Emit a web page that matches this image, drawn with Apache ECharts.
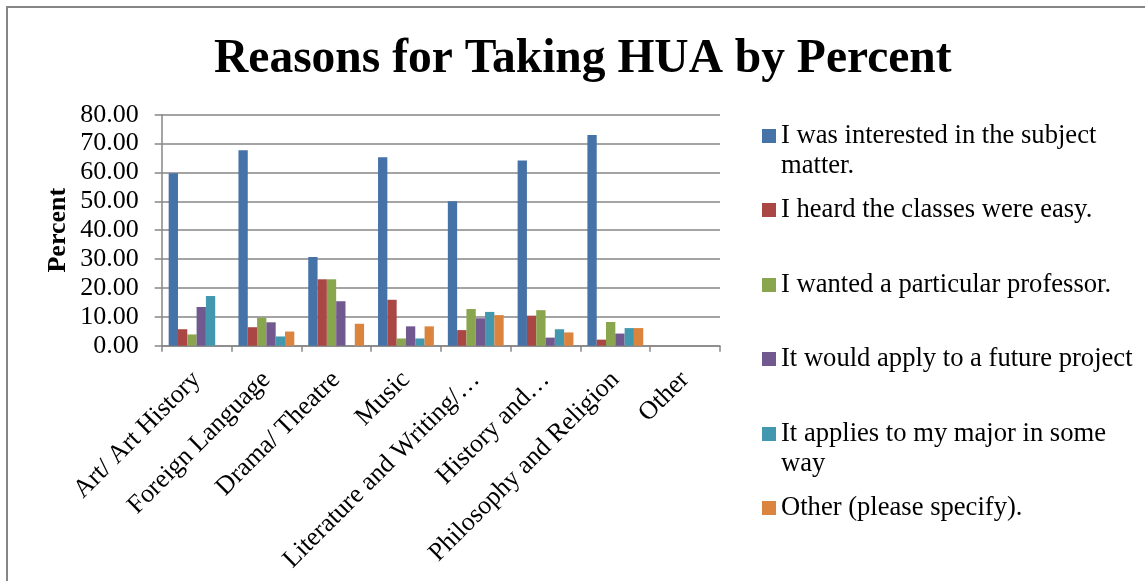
<!DOCTYPE html>
<html>
<head>
<meta charset="utf-8">
<script src="https://cdn.jsdelivr.net/npm/echarts@6/dist/echarts.min.js"></script>
<style>
html,body{margin:0;padding:0;background:#fff;}
#chart{width:1145px;height:581px;}
</style>
</head>
<body>
<div id="chart"></div>
<script>
const categories = ["Art/ Art History","Foreign Language","Drama/ Theatre","Music","Literature and Writing/\u2026","History and\u2026","Philosophy and Religion","Other"];
const seriesNames = ["I was interested in the subject matter.","I heard the classes were easy.","I wanted a particular professor.","It would apply to a future project","It applies to my major in some way","Other (please specify)."];
const interested = [59.7, 67.7, 30.7, 65.3, 50.0, 64.1, 73.0, 0];
const easy       = [5.7, 6.4, 23.0, 15.9, 5.4, 10.4, 2.1, 0];
const professor  = [3.9, 9.7, 23.0, 2.5, 12.7, 12.3, 8.2, 0];
const project    = [13.4, 8.1, 15.4, 6.7, 9.5, 2.8, 4.2, 0];
const major      = [17.2, 3.2, 0, 2.5, 11.7, 5.7, 6.1, 0];
const otherReason= [0, 4.9, 7.6, 6.7, 10.6, 4.6, 6.1, 0];
const yTicks = [0, 10, 20, 30, 40, 50, 60, 70, 80];

const values = [interested, easy, professor, project, major, otherReason];
const colors = ["#4572A7","#AA4643","#89A54E","#71588F","#4198AF","#DB843D"];
// leading blank line keeps the icon level with the first text line
const legendText = {
  "I was interested in the subject matter.": "\nI was interested in the subject\nmatter.",
  "It applies to my major in some way": "\nIt applies to my major in some\nway"
};
const FONT = "'Liberation Serif','Times New Roman',serif";
const LH = 30;
const legendCenters = [136, 210, 285, 359, 434, 508];

const chart = echarts.init(document.getElementById('chart'), null, {renderer:'canvas'});
const legends = seriesNames.map((n, i) => {
  const two = !!legendText[n];
  return {
    data: [n],
    orient: 'vertical',
    left: 762,
    top: legendCenters[i] - (two ? 45 : 15),
    padding: 0,
    itemWidth: 14,
    itemHeight: 14,
    itemGap: 0,
    icon: 'rect',
    selectedMode: false,
    formatter: name => legendText[name] || name,
    textStyle: {fontFamily: FONT, fontSize: 26.6, color: '#000', lineHeight: LH}
  };
});

chart.setOption({
  animation: false,
  backgroundColor: '#fff',
  textStyle: {fontFamily: FONT},
  title: {
    text: 'Reasons for Taking HUA by Percent',
    left: 214,
    top: 36,
    padding: 0,
    textStyle: {fontFamily: FONT, fontSize: 47.5, fontWeight: 'bold', color: '#000'}
  },
  graphic: [{
    type: 'rect', silent: true, z: -1,
    shape: {x: 7, y: 7, width: 1160, height: 600},
    style: {fill: 'none', stroke: '#868686', lineWidth: 2}
  }],
  legend: legends,
  grid: {left: 161.7, right: 425, top: 114.7, bottom: 235.3, containLabel: false},
  xAxis: {
    type: 'category',
    data: categories,
    axisLine: {lineStyle: {color: '#868686', width: 1.5}},
    axisTick: {show: true, length: 6, alignWithLabel: false, lineStyle: {color: '#868686', width: 1.5}},
    axisLabel: {
      rotate: 45, interval: 0, margin: 30,
      fontFamily: FONT, fontSize: 26, color: '#000'
    },
    splitLine: {show: false}
  },
  yAxis: {
    type: 'value',
    min: yTicks[0],
    max: yTicks[yTicks.length - 1],
    interval: yTicks[1] - yTicks[0],
    name: 'Percent',
    nameLocation: 'middle',
    nameGap: 90,
    nameRotate: 90,
    nameTextStyle: {fontFamily: FONT, fontSize: 26, fontWeight: 'bold', color: '#000'},
    axisLine: {show: true, lineStyle: {color: '#868686', width: 1.5}},
    axisTick: {show: true, length: 7, lineStyle: {color: '#868686', width: 1.5}},
    axisLabel: {
      margin: 23, fontFamily: FONT, fontSize: 26, color: '#000',
      formatter: v => v.toFixed(2)
    },
    splitLine: {show: true, lineStyle: {color: '#868686', width: 1.5}}
  },
  series: seriesNames.map((n, i) => ({
    name: n,
    type: 'bar',
    data: values[i],
    barGap: '0%',
    barCategoryGap: '20%',
    itemStyle: {color: colors[i]}
  }))
});
</script>
</body>
</html>
